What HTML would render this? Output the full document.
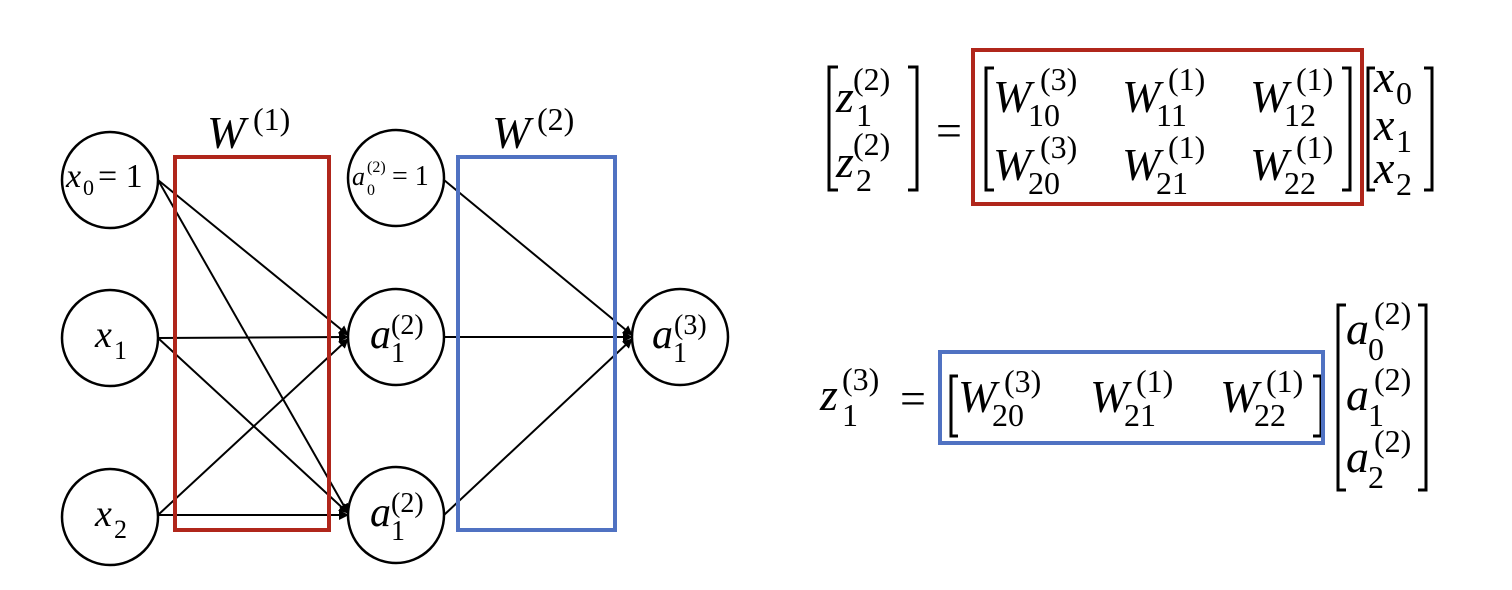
<!DOCTYPE html>
<html><head><meta charset="utf-8"><style>
html,body{margin:0;padding:0;background:#fff;}
svg{display:block;}
text{font-family:"Liberation Serif",serif;fill:#000;}
.i{font-style:italic;}
</style></head><body>
<svg width="1512" height="590" viewBox="0 0 1512 590" xmlns="http://www.w3.org/2000/svg">
<defs>
<marker id="ar" markerWidth="10" markerHeight="10" refX="9" refY="5" orient="auto" markerUnits="userSpaceOnUse">
<path d="M0,0 L10,5 L0,10 z" fill="#000"/></marker>
</defs>
<g fill="none" stroke="#000" stroke-width="2.5">
<ellipse cx="110" cy="180" rx="48" ry="48"/>
<ellipse cx="110" cy="338" rx="48" ry="48"/>
<ellipse cx="110" cy="517" rx="48" ry="48"/>
<ellipse cx="396" cy="178" rx="48" ry="48"/>
<ellipse cx="396" cy="337" rx="48" ry="48"/>
<ellipse cx="396" cy="515" rx="48" ry="48"/>
<ellipse cx="680" cy="337" rx="48" ry="48"/>
</g>
<g stroke="#000" stroke-width="2" marker-end="url(#ar)">
<line x1="158" y1="180" x2="348" y2="335"/>
<line x1="158" y1="180" x2="348" y2="513"/>
<line x1="158" y1="338" x2="348" y2="337"/>
<line x1="158" y1="338" x2="348" y2="513"/>
<line x1="158" y1="515" x2="348" y2="339"/>
<line x1="158" y1="515" x2="348" y2="515"/>
<line x1="444" y1="180" x2="632" y2="335"/>
<line x1="444" y1="337" x2="632" y2="337"/>
<line x1="444" y1="515" x2="632" y2="339"/>
</g>
<rect x="175" y="157" width="154" height="373" fill="none" stroke="#b0261b" stroke-width="4"/>
<rect x="458" y="157" width="157" height="373" fill="none" stroke="#5072c2" stroke-width="4"/>

<text x="66" y="187" font-size="34" class="i">x</text><text x="83" y="195" font-size="22">0</text><text x="98" y="187" font-size="34">= 1</text>
<text x="95" y="347" font-size="38" class="i">x</text><text x="114" y="359" font-size="26">1</text>
<text x="95" y="526" font-size="38" class="i">x</text><text x="114" y="538" font-size="26">2</text>
<text x="352" y="185" font-size="26" class="i">a</text><text x="367" y="172" font-size="16">(2)</text><text x="367" y="195" font-size="16">0</text><text x="392" y="185" font-size="28">= 1</text>
<text x="370" y="348" font-size="42" class="i">a</text><text x="391" y="362" font-size="28">1</text><text x="391" y="334" font-size="28">(2)</text>
<text x="370" y="526" font-size="42" class="i">a</text><text x="391" y="540" font-size="28">1</text><text x="391" y="512" font-size="28">(2)</text>
<text x="652" y="348" font-size="42" class="i">a</text><text x="673" y="362" font-size="28">1</text><text x="674" y="334" font-size="28">(3)</text>
<text x="207" y="148" font-size="46" class="i">W</text><text x="253" y="130" font-size="32">(1)</text>
<text x="492" y="148" font-size="46" class="i">W</text><text x="537" y="130" font-size="32">(2)</text>

<g stroke="#000" stroke-width="3" fill="none">
<path d="M838,67 H829 V190 H838"/>
<path d="M908,67 H917 V190 H908"/>
<path d="M994,68 H986 V190 H994"/>
<path d="M1342,68 H1350 V190 H1342"/>
<path d="M1375,68 H1368 V190 H1375"/>
<path d="M1424,68 H1432 V190 H1424"/>
<path d="M958,376 H951 V436 H958"/>
<path d="M1313,376 H1321 V436 H1313"/>
<path d="M1346,305 H1338 V490 H1346"/>
<path d="M1418,305 H1426 V490 H1418"/>
</g>
<rect x="973" y="50" width="389" height="154" fill="none" stroke="#b0261b" stroke-width="4"/>
<rect x="940" y="352" width="383" height="91" fill="none" stroke="#5072c2" stroke-width="4"/>

<g font-size="46">
<text x="836" y="112" class="i">z</text><text x="856" y="126" font-size="32">1</text><text x="853" y="90" font-size="32">(2)</text>
<text x="836" y="177" class="i">z</text><text x="856" y="191" font-size="32">2</text><text x="853" y="155" font-size="32">(2)</text>
<text x="936" y="146">=</text>
<text x="993" y="112" class="i">W</text><text x="1028" y="126" font-size="32">10</text><text x="1040" y="90" font-size="32">(3)</text>
<text x="993" y="180" class="i">W</text><text x="1028" y="194" font-size="32">20</text><text x="1040" y="158" font-size="32">(3)</text>
<text x="1122" y="112" class="i">W</text><text x="1156" y="126" font-size="32">11</text><text x="1168" y="90" font-size="32">(1)</text>
<text x="1250" y="112" class="i">W</text><text x="1284" y="126" font-size="32">12</text><text x="1296" y="90" font-size="32">(1)</text>
<text x="1122" y="180" class="i">W</text><text x="1156" y="194" font-size="32">21</text><text x="1168" y="158" font-size="32">(1)</text>
<text x="1250" y="180" class="i">W</text><text x="1284" y="194" font-size="32">22</text><text x="1296" y="158" font-size="32">(1)</text>
<text x="1374" y="92" class="i">x</text><text x="1396" y="104" font-size="32">0</text>
<text x="1374" y="140" class="i">x</text><text x="1396" y="152" font-size="32">1</text>
<text x="1374" y="183" class="i">x</text><text x="1396" y="195" font-size="32">2</text>

<text x="820" y="410" class="i">z</text><text x="842" y="426" font-size="32">1</text><text x="842" y="390" font-size="32">(3)</text>
<text x="900" y="414">=</text>
<text x="958" y="412" class="i">W</text><text x="992" y="426" font-size="32">20</text><text x="1004" y="392" font-size="32">(3)</text>
<text x="1090" y="412" class="i">W</text><text x="1124" y="426" font-size="32">21</text><text x="1136" y="392" font-size="32">(1)</text>
<text x="1220" y="412" class="i">W</text><text x="1254" y="426" font-size="32">22</text><text x="1266" y="392" font-size="32">(1)</text>
<text x="1346" y="344" class="i">a</text><text x="1368" y="360" font-size="32">0</text><text x="1374" y="324" font-size="32">(2)</text>
<text x="1346" y="410" class="i">a</text><text x="1368" y="426" font-size="32">1</text><text x="1374" y="390" font-size="32">(2)</text>
<text x="1346" y="472" class="i">a</text><text x="1368" y="488" font-size="32">2</text><text x="1374" y="452" font-size="32">(2)</text>
</g>
</svg>
</body></html>
